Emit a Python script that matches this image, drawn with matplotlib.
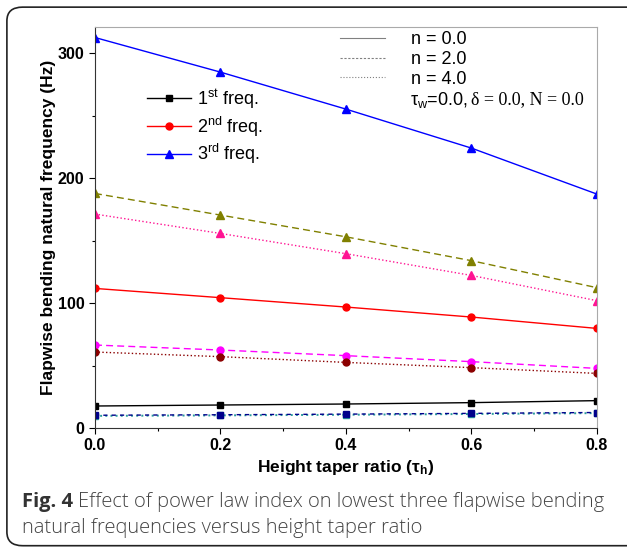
"""Flapwise bending natural frequency vs height taper ratio, for n = 0, 2, 4"""

import matplotlib
matplotlib.use('Agg')
from matplotlib import pyplot as plt
from matplotlib.lines import Line2D
from matplotlib.patches import FancyBboxPatch

plt.rcParams['font.family'] = ['Liberation Sans', 'DejaVu Sans']
plt.rcParams['mathtext.fontset'] = 'custom'
plt.rcParams['mathtext.rm'] = 'Liberation Sans'
plt.rcParams['mathtext.it'] = 'Liberation Sans:italic'
plt.rcParams['mathtext.bf'] = 'Liberation Sans:bold'

taper = [0.0, 0.2, 0.4, 0.6, 0.8]

# 1st freq
f1_n0 = [17.6, 18.4, 19.2, 20.3, 21.9]
f1_n2 = [10.2, 10.6, 11.1, 11.7, 12.4]
f1_n4 = [9.7, 10.1, 10.6, 11.2, 11.9]
# 2nd freq
f2_n0 = [111.7, 104.3, 96.8, 88.8, 79.7]
f2_n2 = [66.4, 62.4, 57.9, 53.1, 47.7]
f2_n4 = [60.8, 57.1, 52.5, 48.3, 43.7]
# 3rd freq
f3_n0 = [312.5, 284.8, 255.2, 224.0, 187.2]
f3_n2 = [187.7, 170.4, 153.0, 133.9, 112.3]
f3_n4 = [171.2, 155.7, 139.5, 122.1, 101.9]

fig = plt.figure(figsize=(6.27, 5.49), dpi=100)
ax = fig.add_axes([0.1515, 0.2204, 0.8005, 0.7306])

ms = 5
lw = 1.0
ax.plot(taper, f1_n0, '-', color='black', marker='s', ms=ms, lw=lw)
ax.plot(taper, f1_n4, ':', color='#2a9d9d', marker='s', ms=ms, lw=1.4)
ax.plot(taper, f1_n2, '--', color='#00008b', marker='s', ms=ms, lw=lw, dashes=(3, 3))
ax.plot(taper, f2_n0, '-', color='red', marker='o', ms=ms, lw=lw)
ax.plot(taper, f2_n2, '--', color='magenta', marker='o', ms=ms, lw=lw, dashes=(5, 3))
ax.plot(taper, f2_n4, ':', color='#8b0000', marker='o', ms=ms, lw=lw)
ax.plot(taper, f3_n0, '-', color='blue', marker='^', ms=ms + 1, lw=lw)
ax.plot(taper, f3_n2, '--', color='#808000', marker='^', ms=ms + 1, lw=lw, dashes=(5, 3))
ax.plot(taper, f3_n4, ':', color='#ff1493', marker='^', ms=ms + 1, lw=lw)

ax.set_xlim(0, 0.8)
ax.set_ylim(0, 321)
ax.set_xticks([0.0, 0.2, 0.4, 0.6, 0.8])
ax.set_xticks([0.1, 0.3, 0.5, 0.7], minor=True)
ax.set_yticks([0, 100, 200, 300])
ax.set_yticks([50, 150, 250], minor=True)
ax.tick_params(which='major', direction='out', length=4, width=0.8, labelsize=11.5)
ax.tick_params(which='minor', direction='out', length=2.5, width=0.8)
for lab in ax.get_xticklabels() + ax.get_yticklabels():
    lab.set_fontweight('bold')
for s in ['left', 'bottom']:
    ax.spines[s].set_color('#333333')
for s in ['top', 'right']:
    ax.spines[s].set_color('#aaaaaa')

ax.set_xlabel(r'Height taper ratio (τ$_{\mathbf{h}}$)', fontsize=12.5, fontweight='bold', labelpad=3)
ax.set_ylabel('Flapwise bending natural frequency (Hz)', fontsize=12.5, fontweight='bold', labelpad=1)

# legend for modes
mode_handles = [
    Line2D([], [], color='black', marker='s', ms=ms, lw=lw),
    Line2D([], [], color='red', marker='o', ms=ms, lw=lw),
    Line2D([], [], color='blue', marker='^', ms=ms + 1, lw=lw),
]
mode_labels = ['1$^{\\rm st}$ freq.', '2$^{\\rm nd}$ freq.', '3$^{\\rm rd}$ freq.']
leg1 = ax.legend(mode_handles, mode_labels, loc='upper left', bbox_to_anchor=(0.072, 0.89),
                 frameon=False, fontsize=13, handlelength=2.4, labelspacing=0.2, handletextpad=0.35)
ax.add_artist(leg1)

# legend for power law index
n_handles = [
    Line2D([], [], color='gray', ls='-', lw=0.8),
    Line2D([], [], color='gray', ls='--', lw=0.8, dashes=(2, 1.5)),
    Line2D([], [], color='gray', ls=':', lw=0.8),
]
n_labels = ['n = 0.0', 'n = 2.0', 'n = 4.0']
ax.legend(n_handles, n_labels, loc='upper left', bbox_to_anchor=(0.456, 1.03),
          frameon=False, fontsize=13, handlelength=2.5, labelspacing=0.15, handletextpad=1.4)

t1 = ax.text(0.627, 0.818, 'τ$_{\\rm w}$=0.0,', transform=ax.transAxes, fontsize=13, va='center')
fig.canvas.draw()
rend = fig.canvas.get_renderer()
tb = t1.get_window_extent(rend)
ax.text((tb.x1 - ax.bbox.x0) / ax.bbox.width + 0.008, 0.818, 'δ = 0.0, N = 0.0',
        transform=ax.transAxes, fontsize=13, va='center', family='Liberation Serif')

# caption
cap_y1 = 1 - 507 / 549
cap_y2 = 1 - 533 / 549
cap1 = fig.text(0.035, cap_y1, 'Fig. 4', fontsize=14.5, fontweight='bold', family='Open Sans',
                color='#333333', va='baseline')
bb = cap1.get_window_extent(rend)
fig.text(bb.x1 / fig.bbox.width + 0.008, cap_y1,
         'Effect of power law index on lowest three flapwise bending',
         fontsize=14.5, family='Open Sans', color='#444444', fontweight='light', va='baseline')
fig.text(0.035, cap_y2, 'natural frequencies versus height taper ratio',
         fontsize=14.5, family='Open Sans', color='#444444', fontweight='light', va='baseline')

# rounded frame around the figure
frame = FancyBboxPatch((0.011, 0.006), 1.05, 0.981, boxstyle='round,pad=0,rounding_size=0.025',
                       transform=fig.transFigure, fill=False, ec='#222222', lw=1.2, clip_on=False)
fig.patches.append(frame)

plt.savefig('out.png', dpi=100)
